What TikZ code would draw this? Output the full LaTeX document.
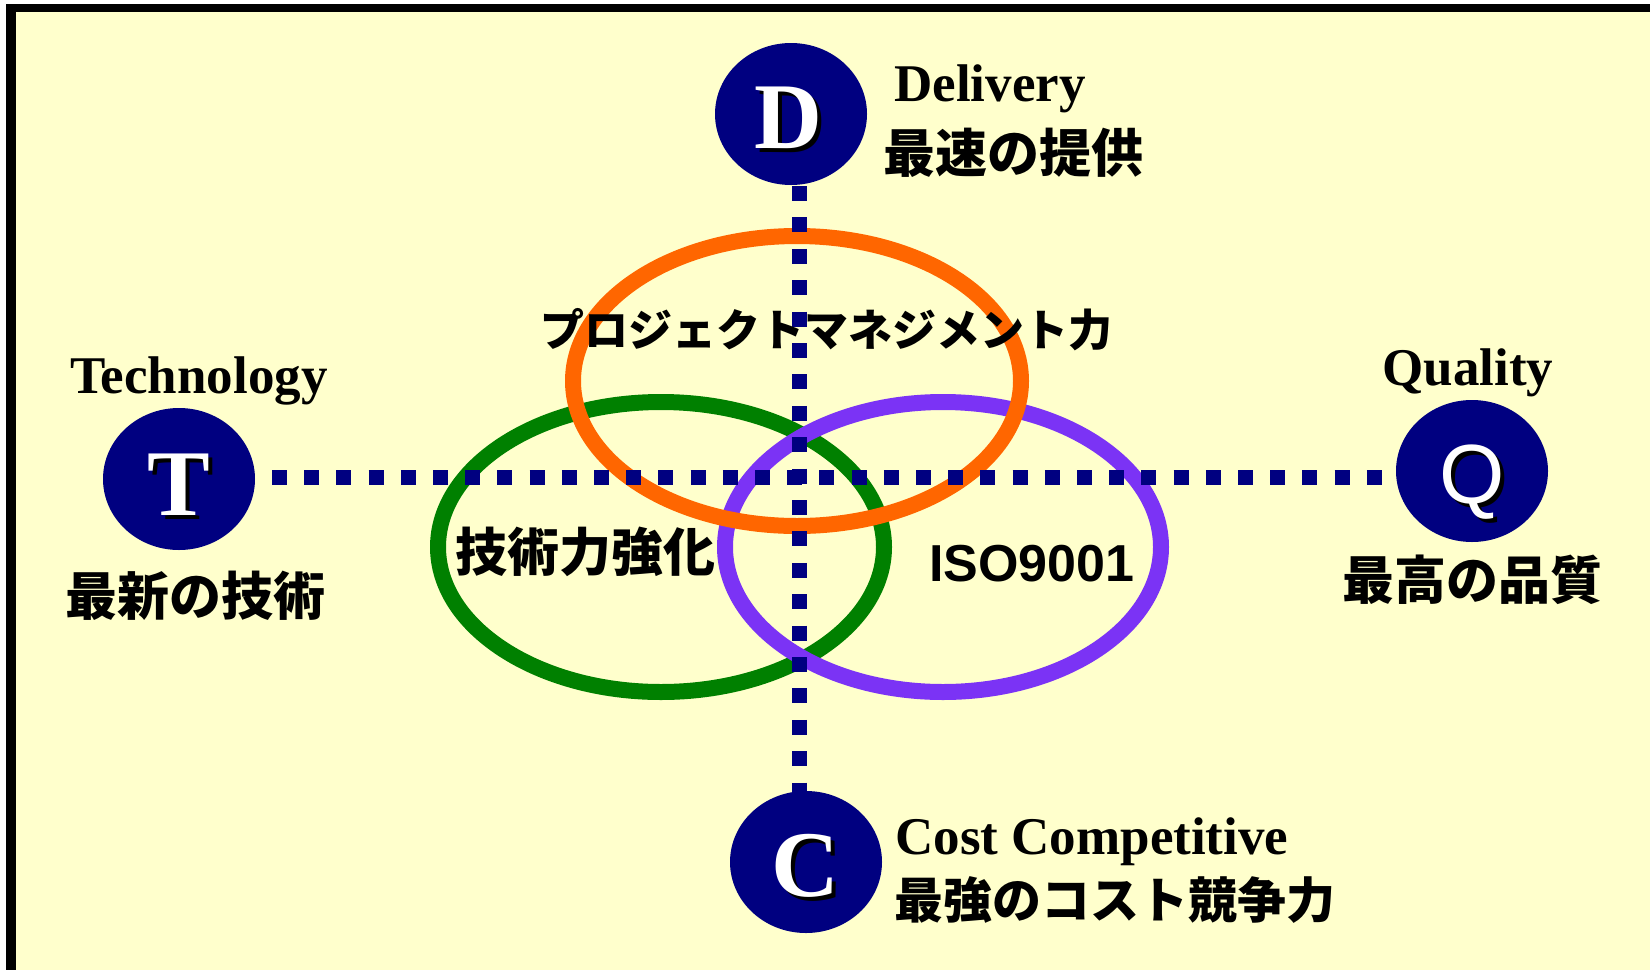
\documentclass[tikz,border=0pt]{standalone}
\usepackage{fontspec}
\setmainfont{Liberation Serif}
\newfontfamily\cjk{Noto Sans CJK JP}
\newfontfamily\arialf{Liberation Sans}
\usetikzlibrary{shapes.geometric}
\definecolor{bgyellow}{HTML}{FFFFCC}
\definecolor{navyc}{HTML}{000080}
\definecolor{orangec}{HTML}{FF6600}
\definecolor{greenc}{HTML}{008000}
\definecolor{purplec}{HTML}{7B33F5}
\tikzset{
  letterball/.style={ellipse, fill=navyc, minimum width=76pt, minimum height=71pt, inner sep=0pt},
  hdots/.style={navyc, line width=7.5pt, dash pattern=on 7.5pt off 8.6pt},
  vdots/.style={navyc, line width=7.5pt, dash pattern=on 7.5pt off 8.2pt},
  ring/.style={line width=8pt},
  bigletter/.style={font=\fontsize{47}{50}\selectfont\bfseries, inner sep=0pt, anchor=base},
  enlabel/.style={font=\fontsize{26.5}{30}\selectfont\bfseries, inner sep=0pt, anchor=base west},
  jplabel/.style={font=\cjk\bfseries\fontsize{#1}{#1}\selectfont, inner sep=0pt, anchor=west},
  jplabel/.default=26,
}
\begin{document}
\begin{tikzpicture}[x=0.5pt,y=-0.5pt]
\useasboundingbox (0,0) rectangle (1650,970);
\fill[white] (0,0) rectangle (1650,970);
\fill[bgyellow] (16,12) rectangle (1650,970);
\fill[black] (6,4) rectangle (1650,12);
\fill[black] (6,4) rectangle (16,970);

% rings
\draw[ring, greenc] (661,547) ellipse [x radius=111.5pt, y radius=72.5pt];
\draw[ring, purplec] (943,547) ellipse [x radius=109pt, y radius=72.5pt];
\draw[ring, orangec] (797,381) ellipse [x radius=112pt, y radius=72.5pt];

% dotted axes
\coordinate (hA) at (272,477);
\coordinate (hB) at (1400,477);
\coordinate (vA) at (799,186);
\coordinate (vB) at (799,797);
\draw[hdots] (hA) -- (hB);
\draw[vdots] (vA) -- (vB);

% balls
\node[letterball] (D) at (791,114) {};
\node[letterball] (T) at (179,479) {};
\node[letterball] (Q) at (1472,471) {};
\node[letterball] (C) at (806,862) {};

\node[bigletter, black] (Dsh) at (792,152) {D};
\node[bigletter, white] (Dl) at (788,148) {D};
\node[bigletter, black] (Tsh) at (183,519) {T};
\node[bigletter, white] (Tl) at (179,515) {T};
\node[bigletter, black, font=\arialf\fontsize{42}{45}\selectfont] (Qsh) at (1476,507) {Q};
\node[bigletter, white, font=\arialf\fontsize{42}{45}\selectfont] (Ql) at (1472,503) {Q};
\node[bigletter, black] (Csh) at (809,900) {C};
\node[bigletter, white] (Cl) at (805,896) {C};

% labels
\node[enlabel] (delivery) at (894,101) {Delivery};
\node[jplabel] (dj) at (883,153) {最速の提供};
\node[enlabel] (tech) at (70,393) {Technology};
\node[jplabel] (tj) at (65,596) {最新の技術};
\node[enlabel] (qual) at (1382,385) {Quality};
\node[jplabel] (qj) at (1342,580) {最高の品質};
\node[enlabel] (cost) at (895,854) {Cost Competitive};
\node[jplabel=24.5] (cj) at (894,900) {最強のコスト競争力};

\node[jplabel=22] (pm) at (540,330) {プロジェクトマネジメント力};
\node[jplabel] (tk) at (455,552) {技術力強化};
\node[font=\arialf\bfseries\fontsize{26}{30}\selectfont, inner sep=0pt] (iso) at (1032,564) {ISO9001};
\end{tikzpicture}
\end{document}
